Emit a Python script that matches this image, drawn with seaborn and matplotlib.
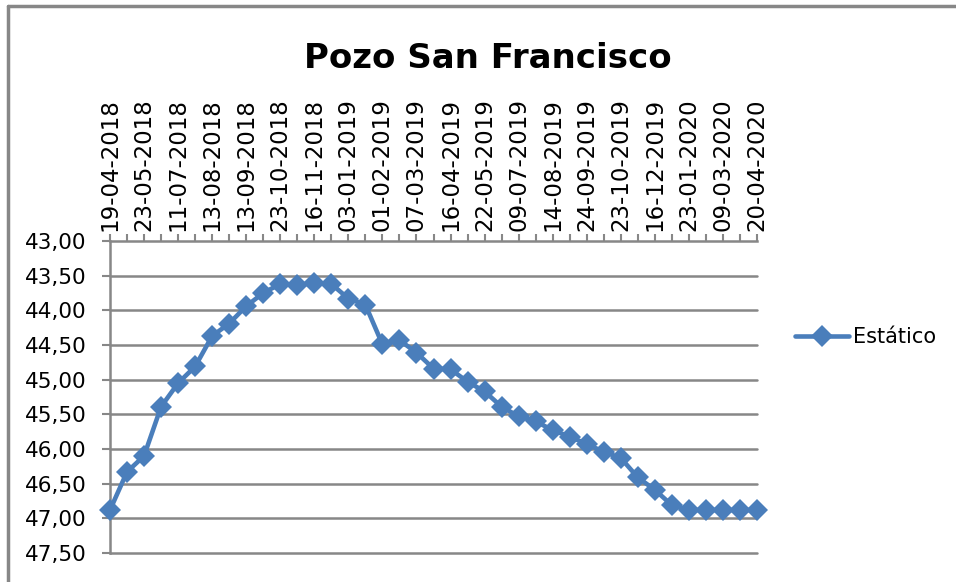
import numpy as np
import pandas as pd
import seaborn as sns
import matplotlib.pyplot as plt
from matplotlib.lines import Line2D

# fechas rotuladas (una de cada dos mediciones)
fechas = ["19-04-2018", "23-05-2018", "11-07-2018", "13-08-2018", "13-09-2018",
          "23-10-2018", "16-11-2018", "03-01-2019", "01-02-2019", "07-03-2019",
          "16-04-2019", "22-05-2019", "09-07-2019", "14-08-2019", "24-09-2019",
          "23-10-2019", "16-12-2019", "23-01-2020", "09-03-2020", "20-04-2020"]

# nivel estatico (m), una medicion por categoria
estatico = [46.88, 46.33, 46.10, 45.39, 45.05, 44.81, 44.37, 44.19, 43.94, 43.75,
            43.62, 43.63, 43.61, 43.62, 43.83, 43.92, 44.49, 44.43, 44.61, 44.84,
            44.85, 45.03, 45.17, 45.39, 45.53, 45.60, 45.73, 45.82, 45.93, 46.04,
            46.13, 46.41, 46.59, 46.81, 46.88, 46.88, 46.88, 46.88, 46.88]

y_ticks = [43.0, 43.5, 44.0, 44.5, 45.0, 45.5, 46.0, 46.5, 47.0, 47.5]

df = pd.DataFrame({"idx": np.arange(len(estatico)), "Estático": estatico})

sns.set_style("white")
plt.rcParams['font.family'] = ['DejaVu Sans']
plt.rcParams['text.color'] = 'black'
plt.rcParams['xtick.labelcolor'] = 'black'
plt.rcParams['ytick.labelcolor'] = 'black'

gris = "#878787"
azul = "#4a7ebb"

fig = plt.figure(figsize=(9.56, 5.82), dpi=100)
ax = fig.add_axes([110 / 956, 1 - 553 / 582, (757 - 110) / 956, (553 - 241) / 582])

sns.lineplot(data=df, x="idx", y="Estático", ax=ax, color=azul, linewidth=3.3,
             marker="D", markersize=11.5, markeredgewidth=0, label="Estático",
             clip_on=False, zorder=5)

ax.set_xlim(0, len(estatico) - 1)
ax.set_ylim(47.5, 43.0)
ax.set_yticks(y_ticks)
ax.set_yticklabels([f"{v:.2f}".replace(".", ",") for v in y_ticks], fontsize=15.5)
for v in y_ticks[1:]:
    ax.axhline(v, color=gris, linewidth=1.8, zorder=0, clip_on=False)

ax.xaxis.tick_top()
ax.set_xticks(np.arange(0, len(estatico), 2))
ax.set_xticks(np.arange(1, len(estatico), 2), minor=True)
ax.set_xticklabels(fechas, rotation=90, fontsize=16.5)
ax.tick_params(axis="x", which="both", direction="out", length=5, width=1.5,
               color=gris, pad=2, top=True, bottom=False)
ax.tick_params(axis="y", direction="out", length=6, width=1.5, color=gris, left=True, pad=11)
ax.set_xlabel("")
ax.set_ylabel("")

for s in ["right", "bottom"]:
    ax.spines[s].set_visible(False)
for s in ["left", "top"]:
    ax.spines[s].set_color(gris)
    ax.spines[s].set_linewidth(1.8)

ax.legend(loc="center left", bbox_to_anchor=(795 / 956, 1 - 337 / 582),
          bbox_transform=fig.transFigure, frameon=False, fontsize=15,
          handlelength=2.6, handletextpad=0.2, borderpad=0, borderaxespad=0)

fig.text(0.51, 1 - 58 / 582, "Pozo San Francisco", ha="center", va="center",
         fontsize=24.5, fontweight="bold", color="black")

# marco del grafico (solo izquierda y arriba visibles)
fig.add_artist(Line2D([8 / 956, 8 / 956], [0, 1 - 6 / 582], color=gris, linewidth=2.5))
fig.add_artist(Line2D([8 / 956, 1], [1 - 6 / 582, 1 - 6 / 582], color=gris, linewidth=2.5))

fig.savefig("out.png", dpi=100)
